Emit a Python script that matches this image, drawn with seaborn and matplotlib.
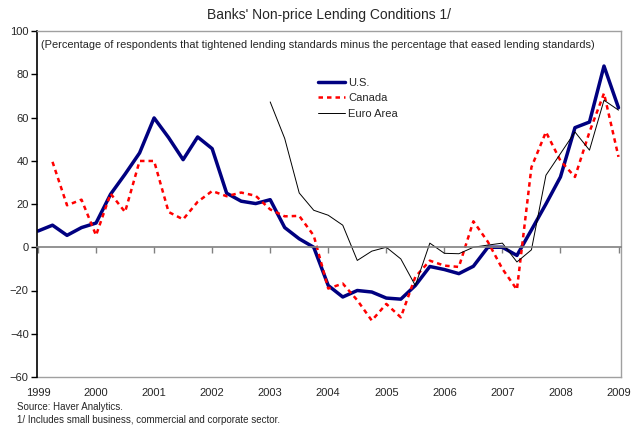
import matplotlib
matplotlib.use('Agg')
import matplotlib.pyplot as plt
import seaborn as sns
import pandas as pd
import numpy as np

# quarterly survey, 1999Q1 - 2009Q1
quarters = pd.period_range('1999Q1', '2009Q1', freq='Q')

us = [7.5, 10.2, 5.5, 9.1, 11.2, 24.5, 33.8, 43.6, 59.8, 50.7,
      40.5, 51.0, 45.6, 25.0, 21.3, 20.2, 22.0, 9.1, 3.9, 0.0,
      -17.7, -23.0, -20.0, -20.7, -23.5, -24.0, -17.7, -8.9, -10.3, -12.2,
      -8.8, 0.0, 0.0, -3.8, 8.0, 20.0, 32.5, 55.3, 57.9, 83.8,
      64.5]

canada = [np.nan, 39.5, 19.4, 22.0, 5.5, 24.8, 16.3, 39.9, 39.9, 16.3,
          12.9, 21.0, 26.0, 23.6, 25.3, 23.8, 17.5, 14.3, 14.5, 5.4,
          -19.1, -16.8, -24.5, -33.9, -26.2, -32.4, -13.7, -6.2, -8.5, -9.1,
          12.0, 2.5, -10.0, -19.6, 37.0, 53.3, 40.0, 32.5, 53.3, 71.2,
          41.8]

euro_area = [np.nan] * 16 + [
    67.2, 50.3, 25.1, 17.1, 14.8, 10.2, -6.1, -1.8, 0.0, -5.4,
    -17.7, 1.9, -2.8, -3.0, 0.0, 1.0, 1.9, -6.8, -1.2, 33.3,
    43.3, 53.3, 44.9, 68.0, 63.4]

years = list(range(1999, 2010))

title = "Banks' Non-price Lending Conditions 1/"
subtitle = ("(Percentage of respondents that tightened lending standards minus "
            "the percentage that eased lending standards)")
source = "Source: Haver Analytics."
note = "1/ Includes small business, commercial and corporate sector."

sns.set_style('white')
plt.rcParams['font.family'] = ['Liberation Sans', 'DejaVu Sans']

t = quarters.year + (quarters.quarter - 1) / 4
df = pd.DataFrame({'t': t, 'U.S.': us, 'Canada': canada, 'Euro Area': euro_area})

fig = plt.figure(figsize=(6.41, 4.25), dpi=100)
ax = fig.add_axes([37 / 641, 48 / 425, 584 / 641, 346 / 425])

sns.lineplot(data=df, x='t', y='U.S.', ax=ax, color='#000080', lw=2.5, label='U.S.')
sns.lineplot(data=df, x='t', y='Canada', ax=ax, color='red', lw=1.8,
             dashes=False, ls=(0, (1.8, 1.6)), label='Canada')
sns.lineplot(data=df, x='t', y='Euro Area', ax=ax, color='black', lw=0.7, label='Euro Area')

ax.set_xlim(1998.983, 2009.043)
ax.set_ylim(-60, 100)
ax.set_yticks(range(-60, 101, 20))
ax.set_xlabel('')
ax.set_ylabel('')

# year ticks sit on the zero line, labels along the bottom
ax.spines['bottom'].set_position(('data', 0))
ax.spines['bottom'].set_color('#808080')
ax.spines['bottom'].set_linewidth(1.2)
ax.set_xticks(years)
ax.tick_params(axis='x', direction='out', length=4, width=1, color='#808080',
               labelbottom=False, bottom=True)
ax.tick_params(axis='y', direction='out', length=4, width=1, color='black',
               labelsize=8, left=True, pad=2)
ax.spines['left'].set_color('black')
ax.spines['left'].set_linewidth(1.2)
for s in ['top', 'right']:
    ax.spines[s].set_color('#a0a0a0')
    ax.spines[s].set_linewidth(1)

secax = ax.secondary_xaxis(0)
secax.set_xticks(years)
secax.set_xticklabels([str(y) for y in years])
secax.tick_params(length=0, labelsize=8, pad=8)
secax.spines['bottom'].set_color('#a0a0a0')
secax.spines['bottom'].set_linewidth(1)

ax.set_title(title, fontsize=10, pad=9)
ax.text(0.007, 0.96, subtitle, transform=ax.transAxes, fontsize=7.9, va='center')

ax.legend(loc='upper left', bbox_to_anchor=(0.474, 0.878), frameon=False,
          fontsize=8, handlelength=2.45, handletextpad=0.25, labelspacing=0.5,
          borderaxespad=0)

fig.text(17 / 641, 1 - 407 / 425, source, fontsize=7, va='center')
fig.text(17 / 641, 1 - 420 / 425, note, fontsize=7, va='center')

fig.savefig('out.png', dpi=100)
